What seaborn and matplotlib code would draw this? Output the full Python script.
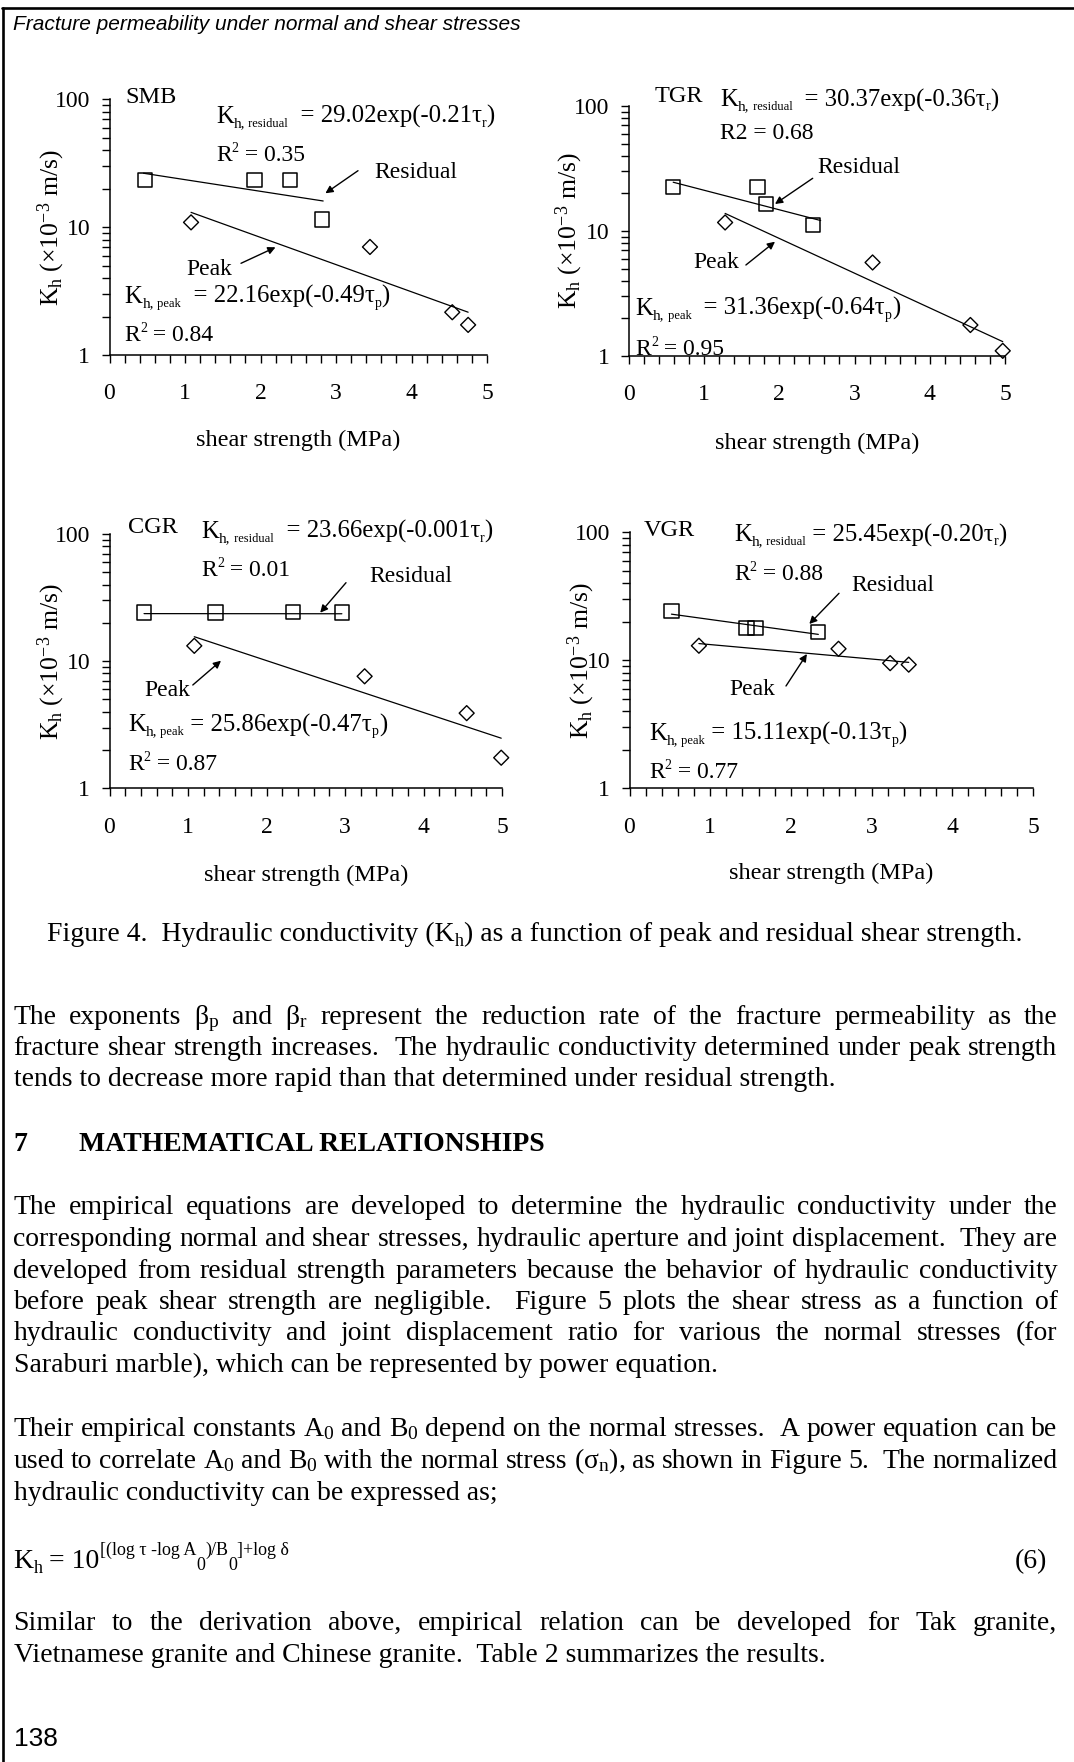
import numpy as np
import matplotlib
matplotlib.use("Agg")
import matplotlib.pyplot as plt
import seaborn as sns
from matplotlib.ticker import LogLocator, MultipleLocator, NullFormatter
from matplotlib.lines import Line2D

# ---------------- data ----------------
rocks = ["SMB", "TGR", "CGR", "VGR"]

# residual strength tests (squares)
res_tau = [
    [0.47, 1.92, 2.39, 2.81],
    [0.59, 1.71, 1.82, 2.45],
    [0.44, 1.35, 2.34, 2.96],
    [0.52, 1.45, 1.56, 2.34],
]
res_kh = [
    [23.4, 23.4, 23.4, 11.5],
    [22.4, 22.4, 16.4, 11.2],
    [24.1, 24.1, 24.3, 24.1],
    [24.3, 18.0, 18.0, 16.7],
]

# peak strength tests (diamonds)
peak_tau = [
    [1.08, 3.45, 4.54, 4.75],
    [1.28, 3.24, 4.54, 4.97],
    [1.08, 3.25, 4.55, 4.99],
    [0.86, 2.59, 3.23, 3.46],
]
peak_kh = [
    [10.9, 7.0, 2.16, 1.72],
    [11.7, 5.6, 1.77, 1.10],
    [13.2, 7.6, 3.9, 1.74],
    [13.0, 12.3, 9.5, 9.25],
]

# exponential fits K = a * exp(-b * tau)
res_a = ["29.02", "30.37", "23.66", "25.45"]
res_b = ["0.21", "0.36", "0.001", "0.20"]
res_r2 = ["0.35", "0.68", "0.01", "0.88"]
res_span = [(0.45, 2.83), (0.59, 2.55), (0.44, 2.96), (0.52, 2.34)]

peak_a = ["22.16", "31.36", "25.86", "15.11"]
peak_b = ["0.49", "0.64", "0.47", "0.13"]
peak_r2 = ["0.84", "0.95", "0.87", "0.77"]
peak_span = [(1.08, 4.75), (1.28, 4.97), (1.08, 4.99), (0.86, 3.46)]

x_ticks = [0, 1, 2, 3, 4, 5]
y_ticks = [1, 10, 100]
y_tick_labels = ["1", "10", "100"]

# ---------------- style ----------------
sns.set_theme(style="ticks")
SERIF = ["Liberation Serif", "DejaVu Serif"]
SANS = ["Liberation Sans", "DejaVu Sans"]
plt.rcParams.update({
    "font.family": SERIF,
    "mathtext.fontset": "custom",
    "mathtext.rm": "Liberation Serif",
    "mathtext.it": "Liberation Serif:italic",
    "mathtext.bf": "Liberation Serif:bold",
    "axes.edgecolor": "black",
    "axes.linewidth": 1.1,
    "xtick.color": "black",
    "ytick.color": "black",
    "text.color": "black",
    "axes.labelcolor": "black",
    "axes.facecolor": "white",
    "figure.facecolor": "white",
})

W, H = 1074, 1762
fig = plt.figure(figsize=(W / 100, H / 100), dpi=100)
renderer = fig.canvas.get_renderer()


def fx(x):
    return x / W


def fy(y):
    return 1 - y / H


def text_width(t):
    return t.get_window_extent(renderer).width


def rich(x, y, parts, family=SERIF, style="normal", weight="normal", align="left"):
    """Draw consecutive text runs (text, size, raise in px) on one baseline."""
    placed = []
    cx = x
    for s, size, dy in parts:
        t = fig.text(fx(cx), fy(y - dy), s, fontsize=size, family=family,
                     style=style, weight=weight, va="baseline", ha="left")
        placed.append((t, cx))
        cx += text_width(t)
    if align == "center":
        shift = (cx - x) / 2
        for t, px in placed:
            t.set_x(fx(px - shift))
    return cx - x


def justify(y, line, x0=13.5, x1=1057.5, size=20):
    tokens = line.split(" ")
    words, gaps = [], []
    pending = 0
    for tok in tokens:
        if tok == "":
            pending += 1
            continue
        if words:
            gaps.append(pending + 1)
        pending = 0
        words.append(tok)
    ts = [fig.text(fx(x0), fy(y), w, fontsize=size, va="baseline", ha="left") for w in words]
    ws = [text_width(t) for t in ts]
    unit = (x1 - x0 - sum(ws)) / sum(gaps)
    x = x0
    for i, (t, w) in enumerate(zip(ts, ws)):
        t.set_x(fx(x))
        if i < len(gaps):
            x += w + unit * gaps[i]


def plain(y, line, x0=13.5, size=20, **kw):
    fig.text(fx(x0), fy(y), line, fontsize=size, va="baseline", ha="left", **kw)


# ---------------- page frame and running head ----------------
fig.add_artist(Line2D([fx(2), 1.0], [fy(7.5), fy(7.5)], transform=fig.transFigure,
                      color="black", lw=1.9))
fig.add_artist(Line2D([fx(2.5), fx(2.5)], [fy(7.5), 0.0], transform=fig.transFigure,
                      color="black", lw=1.9))
fig.text(fx(13), fy(30.5), "Fracture permeability under normal and shear stresses",
         fontsize=15, family=SANS, style="italic", va="baseline", ha="left")

# ---------------- the four panels ----------------
AXES_BOX = [  # left, right, top, bottom (page px)
    (109.5, 487.0, 99.3, 355.0),
    (628.8, 1005.0, 106.0, 356.0),
    (109.5, 502.0, 534.0, 788.3),
    (629.5, 1033.0, 532.3, 788.3),
]
XLABEL_Y = [440, 443, 875, 873]
YLABEL_X = [51.7, 569.5, 51.7, 581.5]

LAYOUT = [
    dict(name=(125.7, 95), res=(216, 115), res_r2=(216, 153), res_tag=(374.7, 170),
         res_arrow=((358, 170.7), (325.4, 193.3)), peak_tag=(186, 266.7),
         peak_arrow=((241, 263.3), (275.5, 247.3)), peak=(124.7, 295), peak_r2=(124.7, 333.3),
         res_gap="  ", peak_gap="  "),
    dict(name=(654.5, 94.3), res=(720.2, 98.3), res_r2=(720.2, 130.7), res_tag=(817.8, 165),
         res_arrow=((812.7, 178.3), (775, 204)), peak_tag=(693.8, 260),
         peak_arrow=((745.9, 265), (775, 241.7)), peak=(635.3, 306.7), peak_r2=(635.3, 346.7),
         res_gap="  ", peak_gap="  "),
    dict(name=(128, 525), res=(201.4, 530), res_r2=(201.4, 568.3), res_tag=(369, 574),
         res_arrow=((346, 582.7), (320.2, 612.7)), peak_tag=(144, 688.3),
         peak_arrow=((192.8, 685), (221, 660.7)), peak=(128, 723.3), peak_r2=(128, 761.7),
         res_gap="  ", peak_gap=" "),
    dict(name=(643.8, 528.3), res=(734, 533.3), res_r2=(734, 571.7), res_tag=(851.4, 583.3),
         res_arrow=((839, 593.3), (809.3, 624)), peak_tag=(729.5, 686.7),
         peak_arrow=((786, 686), (806.9, 654)), peak=(649, 731.7), peak_r2=(649, 770),
         res_gap=" ", peak_gap=" "),
]

FS = 17      # annotation size
FE = 17.8    # fitted-equation size
BL = 8       # centre-to-baseline offset (px)

for i, rock in enumerate(rocks):
    l, r, t, b = AXES_BOX[i]
    ax = fig.add_axes([fx(l), fy(b), (r - l) / W, (b - t) / H])
    ax.set_yscale("log")

    sns.scatterplot(x=res_tau[i], y=res_kh[i], ax=ax, marker="s", s=105,
                    facecolor="none", edgecolor="black", linewidth=1.1,
                    clip_on=False, zorder=3)
    sns.scatterplot(x=peak_tau[i], y=peak_kh[i], ax=ax, marker="D", s=58,
                    facecolor="none", edgecolor="black", linewidth=1.0,
                    clip_on=False, zorder=3)
    for coll in ax.collections:
        coll.set_facecolor("none")
        coll.set_edgecolor("black")

    for a, bb, span in ((res_a[i], res_b[i], res_span[i]),
                        (peak_a[i], peak_b[i], peak_span[i])):
        tau = np.linspace(span[0], span[1], 60)
        sns.lineplot(x=tau, y=float(a) * np.exp(-float(bb) * tau), ax=ax,
                     color="black", linewidth=0.9)

    ax.set_xlim(0, 5)
    ax.set_ylim(1, 100)
    ax.set_xticks(x_ticks)
    ax.set_xticklabels([str(v) for v in x_ticks])
    ax.xaxis.set_minor_locator(MultipleLocator(0.2))
    ax.set_yticks(y_ticks)
    ax.set_yticklabels(y_tick_labels)
    ax.yaxis.set_minor_locator(LogLocator(base=10, subs=np.arange(2, 10) * 1.0, numticks=20))
    ax.yaxis.set_minor_formatter(NullFormatter())
    ax.tick_params(which="both", direction="out", length=5.5, width=1.0, color="black")
    ax.tick_params(axis="x", which="both", pad=15, labelsize=17)
    ax.tick_params(axis="y", which="both", pad=8.5, labelsize=17)
    sns.despine(ax=ax)

    ax.set_xlabel("shear strength (MPa)", fontsize=17.5, va="center")
    ax.xaxis.set_label_coords(0.5, (b - XLABEL_Y[i]) / (b - t))
    ax.set_ylabel("K$_\\mathrm{h}$ (×10$^{-3}$ m/s)", fontsize=18.5, va="center")
    ax.yaxis.set_label_coords((YLABEL_X[i] - l) / (r - l), 0.5)

    lay = LAYOUT[i]
    nx, ny = lay["name"]
    fig.text(fx(nx), fy(ny + BL), rock, fontsize=17.5, va="baseline", ha="left")

    x0, y0 = lay["res"]
    rich(x0, y0 + BL, [("K", FE, 0), ("h,", 11, -4), (" residual", 9, -4),
                       (lay["res_gap"] + "= " + res_a[i] + "exp(-" + res_b[i] + "τ", FE, 0),
                       ("r", 10, -4), (")", FE, 0)])
    x0, y0 = lay["res_r2"]
    if rock == "TGR":
        rich(x0, y0 + BL, [("R2 = " + res_r2[i], FS, 0)])
    else:
        rich(x0, y0 + BL, [("R", FS, 0), ("2", 10, 9), (" = " + res_r2[i], FS, 0)])

    x0, y0 = lay["peak"]
    rich(x0, y0 + BL, [("K", FE, 0), ("h,", 11, -4), (" peak", 9, -4),
                       (lay["peak_gap"] + "= " + peak_a[i] + "exp(-" + peak_b[i] + "τ", FE, 0),
                       ("p", 10, -4), (")", FE, 0)])
    x0, y0 = lay["peak_r2"]
    rich(x0, y0 + BL, [("R", FS, 0), ("2", 10, 9), (" = " + peak_r2[i], FS, 0)])

    for tag, key in (("Residual", "res"), ("Peak", "peak")):
        tx, ty = lay[key + "_tag"]
        fig.text(fx(tx), fy(ty + BL), tag, fontsize=FS, va="baseline", ha="left")
        (x_a, y_a), (x_b, y_b) = lay[key + "_arrow"]
        ax.annotate("", xy=(x_b, H - y_b), xytext=(x_a, H - y_a),
                    xycoords="figure pixels", textcoords="figure pixels",
                    arrowprops=dict(arrowstyle="-|>", color="black", lw=1.0,
                                    mutation_scale=11, shrinkA=0, shrinkB=0))

# ---------------- caption and body text ----------------
rich(534.5, 940.5, [("Figure 4.  Hydraulic conductivity (K", 20, 0), ("h", 13, -5),
                    (") as a function of peak and residual shear strength.", 20, 0)],
     align="center")

justify(1023.6, "The exponents β$_\\mathrm{p}$ and β$_\\mathrm{r}$ represent the reduction rate "
                "of the fracture permeability as the")
justify(1055.0, "fracture shear strength increases.  The hydraulic conductivity determined "
                "under peak strength")
plain(1086.5, "tends to decrease more rapid than that determined under residual strength.")

fig.text(fx(13.5), fy(1150.6), "7", fontsize=20, weight="bold", va="baseline")
fig.text(fx(78.6), fy(1150.6), "MATHEMATICAL RELATIONSHIPS", fontsize=20, weight="bold",
         va="baseline")

justify(1214.5, "The empirical equations are developed to determine the hydraulic "
                "conductivity under the")
justify(1246.0, "corresponding normal and shear stresses, hydraulic aperture and joint "
                "displacement.  They are")
justify(1277.5, "developed from residual strength parameters because the behavior of "
                "hydraulic conductivity")
justify(1309.0, "before peak shear strength are negligible.  Figure 5 plots the shear "
                "stress as a function of")
justify(1340.5, "hydraulic conductivity and joint displacement ratio for various the "
                "normal stresses (for")
plain(1372.0, "Saraburi marble), which can be represented by power equation.")

justify(1436.0, "Their empirical constants A$_0$ and B$_0$ depend on the normal stresses.  "
                "A power equation can be")
justify(1468.0, "used to correlate A$_0$ and B$_0$ with the normal stress (σ$_\\mathrm{n}$), "
                "as shown in Figure 5.  The normalized")
plain(1500.0, "hydraulic conductivity can be expressed as;")

rich(13.5, 1568.0, [("K", 20, 0), ("h", 13, -5), (" = 10", 20, 0),
                    ("[(log τ -log A", 13, 13), ("0", 13, -2), (")/B", 13, 13),
                    ("0", 13, -2), ("]+log δ", 13, 13)])
fig.text(fx(1047), fy(1568.0), "(6)", fontsize=20, va="baseline", ha="right")

justify(1630.0, "Similar to the derivation above, empirical relation can be developed "
                "for Tak granite,")
plain(1661.6, "Vietnamese granite and Chinese granite.  Table 2 summarizes the results.")

fig.text(fx(13.5), fy(1746), "138", fontsize=19, family=SANS, va="baseline", ha="left")

fig.savefig("out.png", dpi=100, facecolor="white")
